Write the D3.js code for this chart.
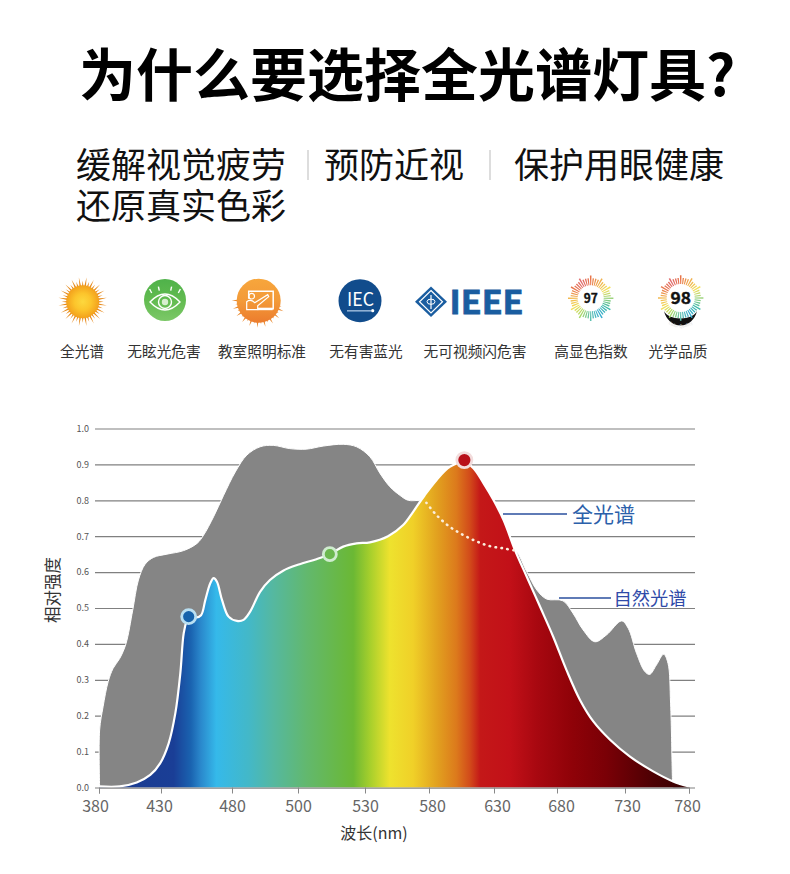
<!DOCTYPE html>
<html><head><meta charset="utf-8">
<script src="https://cdn.jsdelivr.net/npm/d3@7/dist/d3.min.js"></script>
<style>
html,body{margin:0;padding:0;background:#fff}
svg{display:block}
text{font-family:"Noto Sans CJK SC","Noto Sans",sans-serif}
</style></head><body><svg id="c" width="790" height="874"></svg>
<script>
const titleText="为什么要选择全光谱灯具?";
const benefitRows=[["缓解视觉疲劳",76,165],["预防近视",324,165],["保护用眼健康",514,165],["还原真实色彩",76,206]];
const iconLabels=["全光谱","无眩光危害","教室照明标准","无有害蓝光","无可视频闪危害","高显色指数","光学品质"];
const iconLabelX=[82,164,262,366,475,591,678];
const xTicks=[380,430,480,500,530,580,630,680,730,780];
const xTickPx=[99,161,232,298,365,429,494,557,625,689];
const xLabelNudge=[-4,-2,0,0,0,3,3,4,2,-2];
const yTicks=[0,.1,.2,.3,.4,.5,.6,.7,.8,.9,1];
const naturalW=[380.5,380.5,383.3,387.4,391.4,396.8,401.7,407.2,411.8,417.2,424,434.2,446,455.4,460,467,474.1,481,484.5,488.5,492.5,497.5,503.75,511.25,520.25,526.25,533.9,541.7,549.4,557.2,563.7,572.8,578,585.7,596,606.5,616.9,627.2,637.6,646.8,656,664,671.7,684.4,691.8,699.2,707.8,716.4,727.5,732.6,739,745.5,749.3,754.5,760.2,763.6,765.6,767,767.3];
const naturalV=[0,.16,.225,.295,.332,.36,.40,.494,.578,.622,.641,.65,.66,.68,.703,.754,.814,.879,.926,.949,.953,.944,.9425,.951,.956,.949,.921,.875,.838,.814,.80,.799,.793,.759,.726,.703,.685,.672,.666,.66,.601,.55,.525,.52,.485,.439,.406,.425,.464,.443,.374,.323,.315,.341,.371,.346,.235,.03,0];
const dottedFrom=578, dottedTo=646.8;
const fullW=[380,396.8,410.4,421.3,429.4,435.4,440.1,443.6,446,448.3,449.5,454.2,458.2,461.2,464.7,467.1,469.4,473,477.6,481.5,483.5,485.5,488.5,491.5,495.5,500.75,508.25,514.25,520.25,526.25,533.9,548,559.8,567.6,576.6,585.7,596,607.2,614.2,622,629.7,637.6,646.8,656,666.5,677,687,696.9,706.7,719,733.9,752,767.6,780];
const fullV=[.003,.003,.014,.035,.068,.123,.207,.318,.43,.467,.476,.473,.48,.522,.569,.583,.573,.522,.476,.464,.467,.49,.545,.578,.604,.622,.636,.65,.671,.68,.683,.70,.731,.768,.814,.856,.893,.907,.889,.847,.80,.745,.66,.587,.504,.42,.327,.244,.184,.133,.086,.045,.017,.003];
const gradW=[380,439,451,458,469,485,492.5,503.75,524.75,533.9,549.4,567.6,585.7,601,611.6,619.4,642.7,664,691,716,752,780];
const gradC=["#1a3a8e","#1a3e96","#1a63b0","#2a88cc","#35b9ea","#43b8c8","#55b8a0","#62b86e","#6bb834","#a6cf2c","#eee22e","#f0d028","#e2a21f","#dc7a1c","#d24a1a","#c41818","#c21018","#a80810","#8f0208","#7a0006","#4d0003","#350000"];
const markerW=[449.5,514.25,607.2], markerV=[.476,.65,.912];
const markerFill=["#1662ab","#6bb84e","#b8101a"], markerRing=["#b9dff2","#cfeccf","#f2dcdc"], markerR=[7,6.5,7.5];
const seriesLabels=["全光谱","自然光谱"];
const ringColors=["#e8754a","#f0b04e","#f2df5c","#9ad27a","#3fb8a8","#3aaed0","#5cc0b0","#a8d868","#f0e05a","#f2b84e","#e8784e","#e06a6a","#e8754a"];

const svg=d3.select("#c");
const defs=svg.append("defs");
const x=d3.scaleLinear().domain(xTicks).range(xTickPx);
const y=d3.scaleLinear().domain([0,1]).range([787.5,428.5]);

// heading
svg.append("text").attr("x",79).attr("y",96).attr("font-size",57).attr("font-weight",700).attr("fill","#000").text(titleText);
svg.selectAll(".ben").data(benefitRows).join("text").attr("x",d=>d[1]).attr("y",d=>d[2]+12.5).attr("font-size",35).attr("font-weight",400).attr("fill","#111").text(d=>d[0]);
svg.selectAll(".sep").data([308,490]).join("line").attr("x1",d=>d).attr("x2",d=>d).attr("y1",150).attr("y2",180).attr("stroke","#bbb");

// chart
const line=d3.line().x(d=>x(d[0])).y(d=>y(d[1])).curve(d3.curveCatmullRom.alpha(.5));
const area=d3.area().x(d=>x(d[0])).y0(y(0)).y1(d=>y(d[1])).curve(d3.curveCatmullRom.alpha(.5));
const nat=naturalW.map((w,i)=>[w,naturalV[i]]), full=fullW.map((w,i)=>[w,fullV[i]]);

const ya=svg.append("g").attr("transform","translate(95,0)").call(d3.axisLeft(y).tickValues(yTicks).tickFormat(d3.format(".1f")).tickSizeInner(-600).tickSizeOuter(0).tickPadding(6));
ya.select(".domain").remove();
ya.selectAll("line").attr("stroke","#808080").attr("stroke-width",1.2);
ya.selectAll("text").attr("font-size",9).attr("fill","#555");

svg.append("path").attr("d",line(nat)+"Z").attr("fill","#858585").attr("stroke","#fff").attr("stroke-width",1);

const grad=defs.append("linearGradient").attr("id","spec").attr("gradientUnits","userSpaceOnUse").attr("x1",x(380)).attr("x2",x(780)).attr("y1",0).attr("y2",0);
grad.selectAll("stop").data(gradW).join("stop").attr("offset",d=>(x(d)-x(380))/(x(780)-x(380))).attr("stop-color",(d,i)=>gradC[i]);
svg.append("path").attr("d",area(full)).attr("fill","url(#spec)");
svg.append("path").attr("d",line(full)).attr("fill","none").attr("stroke","#fff").attr("stroke-width",2.2);
svg.append("path").attr("d",line(nat.filter(d=>d[0]>=dottedFrom&&d[0]<=dottedTo))).attr("fill","none").attr("stroke","#fbeedd").attr("stroke-width",2.6).attr("stroke-linecap","round").attr("stroke-dasharray","0.5 5.5");

const xa=svg.append("g").attr("transform",`translate(0,${y(0)})`).call(d3.axisBottom(x).tickValues(xTicks).tickFormat(d3.format("d")).tickSize(6).tickPadding(7));
xa.select(".domain").attr("stroke","#888");
xa.selectAll("line").attr("stroke","#888");
xa.selectAll("text").attr("font-size",16).attr("fill","#666").attr("y",12).attr("dy","0.8em").attr("dx",(d,i)=>xLabelNudge[i]);
svg.append("text").attr("x",374).attr("y",839).attr("text-anchor","middle").attr("font-size",16).attr("fill","#333").text("波长(nm)");
svg.append("text").attr("transform","translate(59,590) rotate(-90)").attr("text-anchor","middle").attr("font-size",16.5).attr("fill","#333").text("相对强度");

svg.selectAll(".mk").data(markerW).join("circle").attr("cx",d=>x(d)).attr("cy",(d,i)=>y(markerV[i])).attr("r",(d,i)=>markerR[i]).attr("fill",(d,i)=>markerFill[i]).attr("stroke",(d,i)=>markerRing[i]).attr("stroke-width",2.8);

svg.append("line").attr("x1",503).attr("x2",567).attr("y1",514).attr("y2",514).attr("stroke","#2a4f9e").attr("stroke-width",1.6);
svg.append("text").attr("x",572).attr("y",522).attr("font-size",21).attr("fill","#2b60aa").text(seriesLabels[0]);
svg.append("line").attr("x1",559).attr("x2",611).attr("y1",598).attr("y2",598).attr("stroke","#2a4f9e").attr("stroke-width",1.6);
svg.append("text").attr("x",613.5).attr("y",604.5).attr("font-size",18.3).attr("fill","#2f4aa8").text(seriesLabels[1]);

// icon row
svg.selectAll(".il").data(iconLabels).join("text").attr("x",(d,i)=>iconLabelX[i]).attr("y",357).attr("text-anchor","middle").attr("font-size",14.7).attr("fill","#333").text(d=>d);

function rad(id,stops){const g=defs.append("radialGradient").attr("id",id);stops.forEach((c,i)=>g.append("stop").attr("offset",i/(stops.length-1)).attr("stop-color",c));}
function lin(id,stops){const g=defs.append("linearGradient").attr("id",id).attr("x1",0).attr("x2",0).attr("y1",0).attr("y2",1);stops.forEach((c,i)=>g.append("stop").attr("offset",i/(stops.length-1)).attr("stop-color",c));}
rad("sun",["#fdd83e","#fcc52c","#f3a01c"]);lin("grn",["#4fb24a","#62bb50","#7cc868"]);lin("org",["#f7a63c","#f39a38","#ec7c2e"]);
function rays(cx,cy,r0,r1,n,c,from,to){const g=svg.append("g");d3.range(n).forEach(i=>{const a=from+i/n*(to-from),w=.07,R=i%2?r1:r1-3.5;
 g.append("path").attr("d",`M${cx+r0*Math.cos(a-w)},${cy+r0*Math.sin(a-w)}L${cx+R*Math.cos(a)},${cy+R*Math.sin(a)}L${cx+r0*Math.cos(a+w)},${cy+r0*Math.sin(a+w)}Z`).attr("fill",c);});}
rays(82.7,301.7,14,24.5,40,"#e68a1c",0,2*Math.PI);
svg.append("circle").attr("cx",82.7).attr("cy",301.7).attr("r",16.5).attr("fill","url(#sun)");
// eye
svg.append("circle").attr("cx",165).attr("cy",300).attr("r",21).attr("fill","url(#grn)");
const eye=svg.append("g").attr("transform","translate(165,302)").attr("fill","none").attr("stroke","#fff").attr("stroke-width",1.4);
eye.append("path").attr("d","M-15,0Q0,-16 15,0Q0,16 -15,0Z");
eye.append("circle").attr("r",6.5);
eye.append("circle").attr("r",3.2).attr("fill","#d8efd0").attr("stroke","none");
[-14,-6,6,14].forEach(d=>eye.append("line").attr("x1",d*.95).attr("x2",d*1.1).attr("y1",-Math.abs(14-Math.abs(d))*.3-9).attr("y2",-Math.abs(14-Math.abs(d))*.3-13));
// classroom
rays(258.7,300.7,18,27,20,"#e98a30",Math.PI*.08,Math.PI*1.05);
svg.append("circle").attr("cx",258.7).attr("cy",300.7).attr("r",22).attr("fill","url(#org)");
const bd=svg.append("g").attr("transform","translate(258.7,300.7)");
bd.append("path").attr("d","M-10,-2V-9.5H14.5V8H-1").attr("fill","none").attr("stroke","#fff").attr("stroke-width",1.5);
bd.append("circle").attr("cx",-7).attr("cy",-4.5).attr("r",2.8).attr("fill","none").attr("stroke","#fff").attr("stroke-width",1.2);
bd.append("path").attr("d","M-12,9V1Q-8,-2 -4,2L9,-6L10,-4L-1,5V9Z").attr("fill","none").attr("stroke","#fff").attr("stroke-width",1.2);
bd.append("rect").attr("x",-1).attr("y",7).attr("width",15).attr("height",2.5).attr("fill","#fff");
// IEC
svg.append("circle").attr("cx",360).attr("cy",300.7).attr("r",21.5).attr("fill","#114c8c");
svg.append("text").attr("x",360.5).attr("y",305.5).attr("text-anchor","middle").attr("font-size",18).attr("font-family","Liberation Sans").attr("textLength",27).attr("lengthAdjust","spacingAndGlyphs").attr("fill","#fff").text("IEC");
svg.append("rect").attr("x",347).attr("y",310).attr("width",24).attr("height",1.6).attr("fill","#8fb0d4");
svg.append("circle").attr("cx",372.7).attr("cy",310.7).attr("r",1.6).attr("fill","#fff");
// IEEE
svg.append("path").attr("d","M431,286.5L447,301.7L431,317L415,301.7Z").attr("fill","#1a5da0");
svg.append("path").attr("d","M431,290.5L442.5,301.7L431,313L419.5,301.7Z").attr("fill","none").attr("stroke","#fff").attr("stroke-width",1.2);
svg.append("line").attr("x1",431).attr("x2",431).attr("y1",295).attr("y2",309).attr("stroke","#fff").attr("stroke-width",1.2);
svg.append("ellipse").attr("cx",431).attr("cy",301.7).attr("rx",4).attr("ry",2.6).attr("fill","none").attr("stroke","#fff").attr("stroke-width",1);
svg.append("text").attr("x",449.5).attr("y",314).attr("font-family","Liberation Sans").attr("font-weight",700).attr("font-size",32).attr("textLength",74).attr("lengthAdjust","spacingAndGlyphs").attr("fill","#1a5da0").attr("stroke","#1a5da0").attr("stroke-width",.8).text("IEEE");
// ring gauges
const ringColor=d3.scaleLinear().domain(ringColors.map((c,i)=>i/(ringColors.length-1))).range(ringColors);
function ring(cx,cy,ri,ro,label,fs,tw){const g=svg.append("g").attr("transform",`translate(${cx},${cy})`);const n=48;
 const arc=d3.arc().innerRadius(ri).outerRadius(d=>d.o).startAngle(d=>d.a-.035).endAngle(d=>d.a+.035);
 d3.range(n).forEach(i=>{const a=i/n*2*Math.PI;g.append("path").attr("d",arc({a,o:i%4==0?ro:ro-2.5})).attr("fill",ringColor(i/n));});
 g.append("text").attr("text-anchor","middle").attr("y",fs*.36).attr("font-family","Liberation Sans").attr("font-size",fs).attr("font-weight",700).attr("textLength",tw).attr("lengthAdjust","spacingAndGlyphs").attr("fill","#111").attr("stroke","#111").attr("stroke-width",.4).text(label);}
ring(590.7,298.3,13,22.7,"97",13,14);
svg.append("path").attr("d","M664,311A17,19 0 0 0 697,311A17,10 0 0 1 664,311Z").attr("fill","#111");
defs.append("path").attr("id","band").attr("d","M667,322A15,10 0 0 0 694,322");
svg.append("text").attr("font-size",4.2).attr("fill","#ddd").append("textPath").attr("href","#band").attr("startOffset","50%").attr("text-anchor","middle").text("Color Quality");
ring(680.7,298,14,22.7,"98",16,20.5);
</script></body></html>
